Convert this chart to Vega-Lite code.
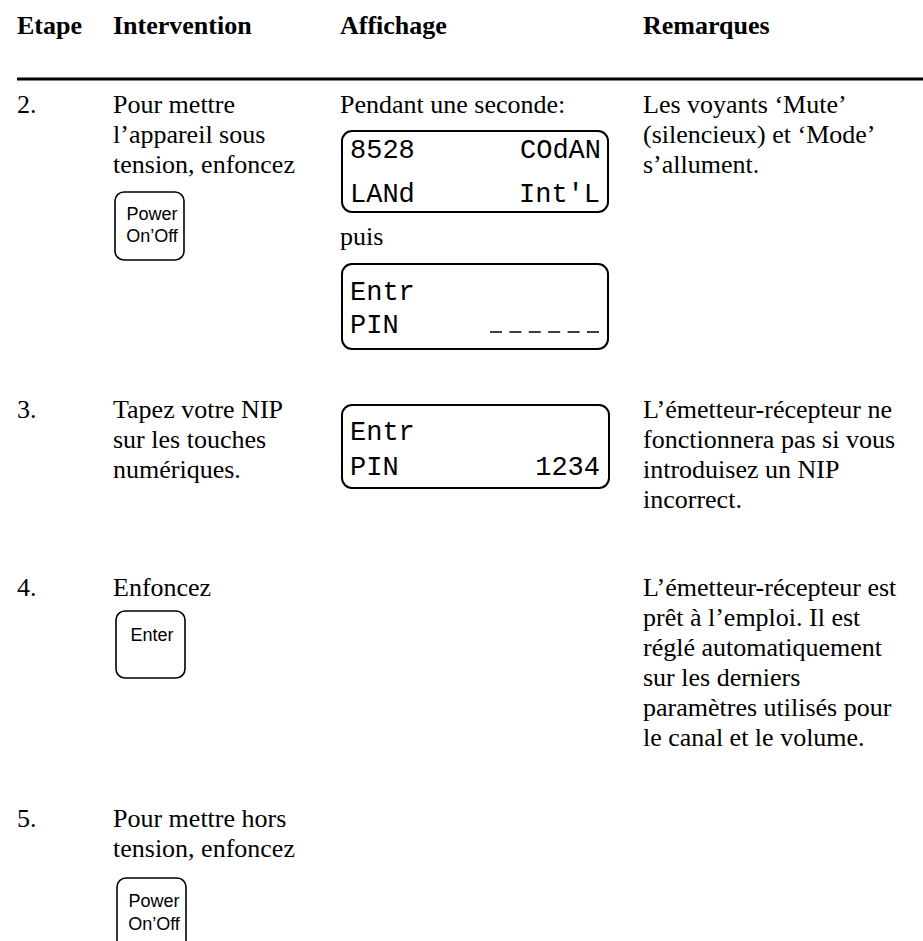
{
  "$schema": "https://vega.github.io/schema/vega-lite/v6.json",
  "width": 923,
  "height": 941,
  "padding": 0,
  "autosize": {"type": "none"},
  "background": "white",
  "config": {"view": {"stroke": null}},
  "datasets": {
    "header": [
      {"x": 17, "y": 34, "t": "Etape"},
      {"x": 113, "y": 34, "t": "Intervention"},
      {"x": 340, "y": 34, "t": "Affichage"},
      {"x": 643, "y": 34, "t": "Remarques"}
    ],
    "body": [
      {"x": 17, "y": 113, "t": "2."},
      {"x": 113, "y": 113, "t": "Pour mettre"},
      {"x": 113, "y": 143, "t": "l’appareil sous"},
      {"x": 113, "y": 173, "t": "tension, enfoncez"},
      {"x": 340, "y": 113, "t": "Pendant une seconde:"},
      {"x": 340, "y": 245, "t": "puis"},
      {"x": 643, "y": 113, "t": "Les voyants ‘Mute’"},
      {"x": 643, "y": 143, "t": "(silencieux) et ‘Mode’"},
      {"x": 643, "y": 173, "t": "s’allument."},
      {"x": 17, "y": 418, "t": "3."},
      {"x": 113, "y": 418, "t": "Tapez votre NIP"},
      {"x": 113, "y": 448, "t": "sur les touches"},
      {"x": 113, "y": 478, "t": "numériques."},
      {"x": 643, "y": 418, "t": "L’émetteur-récepteur ne"},
      {"x": 643, "y": 448, "t": "fonctionnera pas si vous"},
      {"x": 643, "y": 478, "t": "introduisez un NIP"},
      {"x": 643, "y": 508, "t": "incorrect."},
      {"x": 17, "y": 596, "t": "4."},
      {"x": 113, "y": 596, "t": "Enfoncez"},
      {"x": 643, "y": 596, "t": "L’émetteur-récepteur est"},
      {"x": 643, "y": 626, "t": "prêt à l’emploi. Il est"},
      {"x": 643, "y": 656, "t": "réglé automatiquement"},
      {"x": 643, "y": 686, "t": "sur les derniers"},
      {"x": 643, "y": 716, "t": "paramètres utilisés pour"},
      {"x": 643, "y": 746, "t": "le canal et le volume."},
      {"x": 17, "y": 827, "t": "5."},
      {"x": 113, "y": 827, "t": "Pour mettre hors"},
      {"x": 113, "y": 857, "t": "tension, enfoncez"}
    ],
    "rule": [
      {"x": 17, "x2": 923, "y": 79}
    ],
    "dashes": [
      {"x": 490, "x2": 599, "y": 332}
    ],
    "lcdBoxes": [
      {"x": 342, "x2": 608, "y": 131, "y2": 212},
      {"x": 342, "x2": 608, "y": 264, "y2": 349},
      {"x": 342, "x2": 609, "y": 405, "y2": 488}
    ],
    "buttons": [
      {"x": 115, "x2": 184, "y": 192, "y2": 260},
      {"x": 116, "x2": 185, "y": 611, "y2": 678},
      {"x": 117, "x2": 186, "y": 878, "y2": 952}
    ],
    "buttonText": [
      {"x": 152, "y": 220, "t": "Power"},
      {"x": 152, "y": 242, "t": "On’Off"},
      {"x": 152, "y": 641, "t": "Enter"},
      {"x": 154, "y": 907, "t": "Power"},
      {"x": 154, "y": 930, "t": "On’Off"}
    ],
    "lcdLeft": [
      {"x": 350, "y": 158, "t": "8528"},
      {"x": 350, "y": 202, "t": "LANd"},
      {"x": 350, "y": 300, "t": "Entr"},
      {"x": 350, "y": 333, "t": "PIN"},
      {"x": 350, "y": 440, "t": "Entr"},
      {"x": 350, "y": 475, "t": "PIN"}
    ],
    "lcdRight": [
      {"x": 601, "y": 158, "t": "COdAN"},
      {"x": 600, "y": 202, "t": "Int'L"},
      {"x": 600, "y": 475, "t": "1234"}
    ]
  },
  "encoding": {
    "x": {"field": "x", "type": "quantitative", "scale": {"domain": [0, 923], "nice": false, "zero": false}, "axis": null},
    "y": {"field": "y", "type": "quantitative", "scale": {"domain": [0, 941], "range": [0, 941], "nice": false, "zero": false}, "axis": null}
  },
  "layer": [
    {
      "data": {"name": "rule"},
      "mark": {"type": "rule", "color": "black", "strokeWidth": 3},
      "encoding": {"x2": {"field": "x2"}}
    },
    {
      "data": {"name": "dashes"},
      "mark": {"type": "rule", "color": "black", "strokeWidth": 1.6, "strokeDash": [12, 7.4]},
      "encoding": {"x2": {"field": "x2"}}
    },
    {
      "data": {"name": "lcdBoxes"},
      "mark": {"type": "rect", "filled": false, "stroke": "black", "strokeWidth": 2, "cornerRadius": 10},
      "encoding": {"x2": {"field": "x2"}, "y2": {"field": "y2"}}
    },
    {
      "data": {"name": "buttons"},
      "mark": {"type": "rect", "filled": false, "stroke": "black", "strokeWidth": 1.6, "cornerRadius": 9},
      "encoding": {"x2": {"field": "x2"}, "y2": {"field": "y2"}}
    },
    {
      "data": {"name": "header"},
      "mark": {"type": "text", "font": "Liberation Serif", "fontSize": 26, "fontWeight": "bold", "align": "left", "baseline": "alphabetic", "color": "black"},
      "encoding": {"text": {"field": "t"}}
    },
    {
      "data": {"name": "body"},
      "mark": {"type": "text", "font": "Liberation Serif", "fontSize": 26, "align": "left", "baseline": "alphabetic", "color": "black"},
      "encoding": {"text": {"field": "t"}}
    },
    {
      "data": {"name": "buttonText"},
      "mark": {"type": "text", "font": "Liberation Sans", "fontSize": 18, "align": "center", "baseline": "alphabetic", "color": "black"},
      "encoding": {"text": {"field": "t"}}
    },
    {
      "data": {"name": "lcdLeft"},
      "mark": {"type": "text", "font": "Liberation Mono", "fontSize": 27, "align": "left", "baseline": "alphabetic", "color": "black"},
      "encoding": {"text": {"field": "t"}}
    },
    {
      "data": {"name": "lcdRight"},
      "mark": {"type": "text", "font": "Liberation Mono", "fontSize": 27, "align": "right", "baseline": "alphabetic", "color": "black"},
      "encoding": {"text": {"field": "t"}}
    }
  ]
}
